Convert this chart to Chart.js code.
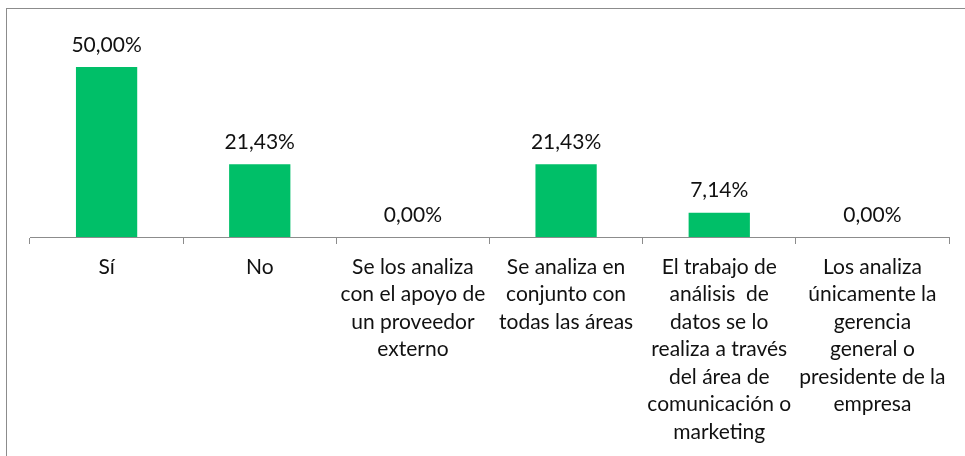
<!DOCTYPE html>
<html>
<head>
<meta charset="utf-8">
<script src="https://cdn.jsdelivr.net/npm/chart.js@4.4.0/dist/chart.umd.min.js"></script>
<style>
  html, body { margin: 0; padding: 0; background: #fff; }
  #wrap { position: relative; width: 965px; height: 456px; overflow: hidden; }
  #frame { position: absolute; left: 6px; top: 8px; width: 1000px; height: 500px; border: 1px solid #8c8c8c; box-sizing: border-box; }
  canvas { position: absolute; left: 0; top: 0; }
</style>
</head>
<body>
<div id="wrap">
  <div id="frame"></div>
  <canvas id="chart" width="965" height="456"></canvas>
</div>
<script>
const categories = [
  ['Sí'],
  ['No'],
  ['Se los analiza', 'con el apoyo de', 'un proveedor', 'externo'],
  ['Se analiza en', 'conjunto con', 'todas las áreas'],
  ['El trabajo de', 'análisis  de', 'datos se lo', 'realiza a través', 'del área de', 'comunicación o', 'marketing'],
  ['Los analiza', 'únicamente la', 'gerencia', 'general o', 'presidente de la', 'empresa'],
];
const percentages = [50.0, 21.43, 0.0, 21.43, 7.14, 0.0];

const FONT = 'Lato, "Noto Sans", sans-serif';
const TEXT = '#111111';
const fmt = (v) => v.toFixed(2).replace('.', ',') + '%';

const valueLabels = {
  id: 'valueLabels',
  afterDatasetsDraw(chart) {
    const { ctx } = chart;
    const meta = chart.getDatasetMeta(0);
    ctx.save();
    ctx.font = '21px ' + FONT;
    ctx.fillStyle = TEXT;
    ctx.textAlign = 'center';
    ctx.textBaseline = 'middle';
    meta.data.forEach((bar, i) => {
      ctx.fillText(fmt(percentages[i]), bar.x, bar.y - 22);
    });
    ctx.restore();
  },
};

new Chart(document.getElementById('chart'), {
  type: 'bar',
  data: {
    labels: categories,
    datasets: [{
      data: percentages,
      backgroundColor: '#00bf68',
      categoryPercentage: 0.4,
      barPercentage: 1,
    }],
  },
  options: {
    responsive: false,
    animation: false,
    layout: { padding: { left: 30, right: 16, top: 33, bottom: 0 } },
    plugins: { legend: { display: false }, tooltip: { enabled: false } },
    scales: {
      y: { display: false, min: 0, max: 60 },
      x: {
        afterFit: (scale) => { scale.height = 219; },
        border: { color: '#8c8c8c', width: 1 },
        grid: {
          offset: true,
          drawOnChartArea: false,
          drawTicks: true,
          tickLength: 7,
          color: '#8c8c8c',
        },
        ticks: {
          maxRotation: 0,
          autoSkip: false,
          padding: 9,
          color: TEXT,
          font: { family: FONT, size: 21, lineHeight: 1.31 },
        },
      },
    },
  },
  plugins: [valueLabels],
});
</script>
</body>
</html>
